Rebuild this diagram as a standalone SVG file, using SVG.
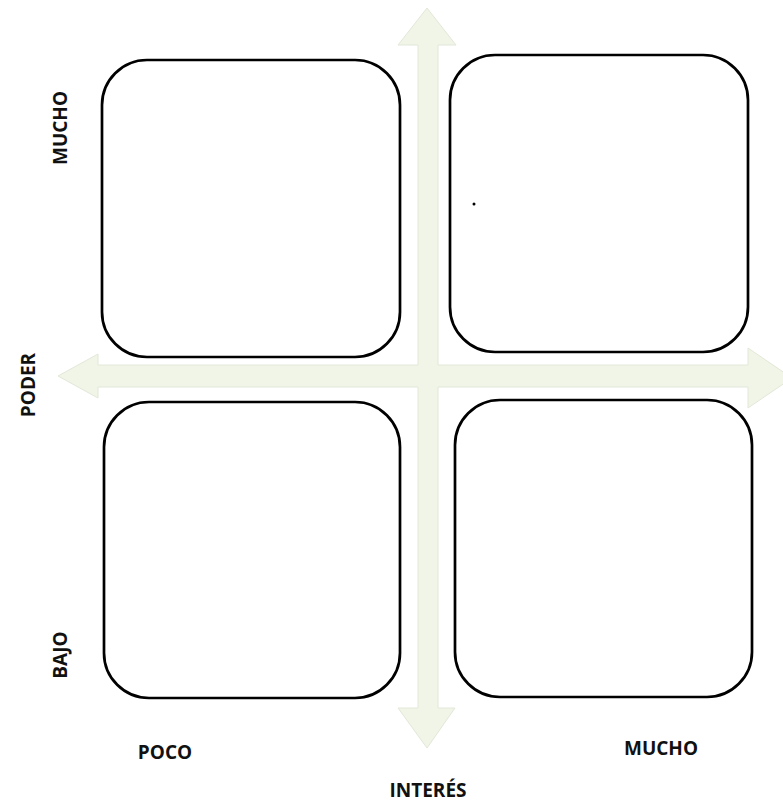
<svg xmlns="http://www.w3.org/2000/svg" width="783" height="802" viewBox="0 0 783 802">
<style>
.box{fill:#ffffff;stroke:#000000;stroke-width:2.7}
.arr{fill:#f0f5e7;stroke:#e2e8d8;stroke-width:1}
.lbl{font-family:"Open Sans","Liberation Sans",sans-serif;font-weight:bold;font-size:19px;fill:#111111}
</style>
<rect width="783" height="802" fill="#ffffff"/>
<g id="connectors">
<path class="arr" d="M427,8 L456,45 L438,45 L438,365 L748,365 L748,348 L792,378 L748,408 L748,387 L438,387 L438,708 L455,708 L427,748 L398,708 L418,708 L418,387 L98,387 L98,398 L58,376 L98,354 L98,365 L418,365 L418,45 L398,45 Z"/>
</g>
<g id="box-tl"><rect class="box" x="102" y="60" width="298" height="297" rx="45"/></g>
<g id="box-tr"><rect class="box" x="450" y="55" width="298" height="297" rx="45"/></g>
<g id="box-bl"><rect class="box" x="104" y="402" width="296" height="296" rx="45"/></g>
<g id="box-br"><rect class="box" x="455" y="400" width="297" height="297" rx="45"/></g>
<circle cx="474" cy="204" r="1.5" fill="#000000"/>
<g id="labels">
<text class="lbl" text-anchor="middle" transform="translate(67,128) rotate(-90)">MUCHO</text>
<text class="lbl" text-anchor="middle" transform="translate(35,385) rotate(-90)">PODER</text>
<text class="lbl" text-anchor="middle" transform="translate(67,655) rotate(-90)">BAJO</text>
<text class="lbl" text-anchor="middle" x="165" y="759">POCO</text>
<text class="lbl" text-anchor="middle" x="661" y="755">MUCHO</text>
<text class="lbl" text-anchor="middle" x="428" y="797">INTERÉS</text>
</g>
</svg>
